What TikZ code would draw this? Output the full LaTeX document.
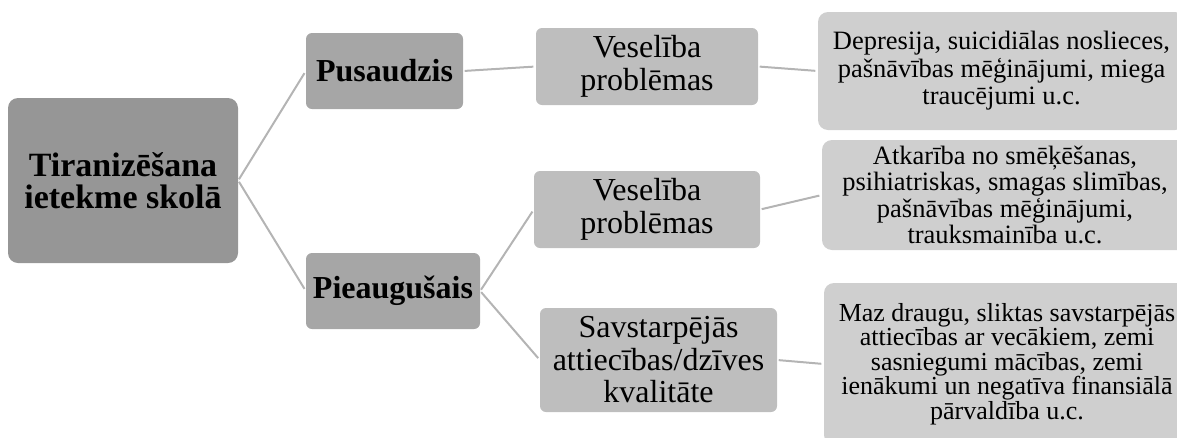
\documentclass[tikz,border=0pt]{standalone}
\usepackage{fontspec}
\setmainfont{Liberation Serif}
\definecolor{cRoot}{HTML}{969696}
\definecolor{cMid}{HTML}{A6A6A6}
\definecolor{cLvl}{HTML}{BEBEBE}
\definecolor{cLeaf}{HTML}{CFCFCF}
\definecolor{cLine}{HTML}{B4B4B4}
\begin{document}
\begin{tikzpicture}[x=1pt,y=-1pt,
  box/.style={rectangle,draw=none,inner sep=0pt,align=center,text=black},
  rootbox/.style={box,fill=cRoot,rounded corners=10pt,font=\fontsize{34}{32}\selectfont\bfseries},
  midbox/.style={box,fill=cMid,rounded corners=6pt,font=\fontsize{32}{33}\selectfont\bfseries},
  lvlbox/.style={box,fill=cLvl,rounded corners=6pt,font=\fontsize{32}{33}\selectfont},
  leafbox/.style={box,fill=cLeaf,rounded corners=10pt},
  conn/.style={draw=cLine,line width=2pt,shorten <=1.5pt,shorten >=2.5pt}]
\useasboundingbox (0,0) rectangle (1177,437);
\clip (0,0) rectangle (1177,437);
\node[rootbox,minimum width=230pt,minimum height=165pt] (root) at (123,180.5) {Tiranizēšana\\ietekme skolā};
\node[midbox,minimum width=157pt,minimum height=76pt] (pus) at (384.5,71) {Pusaudzis};
\node[midbox,minimum width=174pt,minimum height=76pt] (pie) at (393,291) {Pieaugušais};
\node[lvlbox,minimum width=222pt,minimum height=77pt] (v1) at (647,66.5) {Veselība\\problēmas};
\node[lvlbox,minimum width=226pt,minimum height=77pt] (v2) at (647,209.5) {Veselība\\problēmas};
\node[lvlbox,minimum width=237pt,minimum height=104pt,font=\fontsize{32}{32.5}\selectfont] (sav) at (658.5,360) {Savstarpējās\\attiecības/dzīves\\kvalitāte};
\node[leafbox,minimum width=367pt,minimum height=118pt,font=\fontsize{26.5}{27.5}\selectfont] (l1) at (1001.5,71) {Depresija, suicidiālas noslieces,\\pašnāvības mēģinājumi, miega\\traucējumi u.c.};
\node[leafbox,minimum width=366pt,minimum height=110pt,font=\fontsize{26.5}{26.3}\selectfont] (l2) at (1005,195) {Atkarība no smēķēšanas,\\psihiatriskas, smagas slimības,\\pašnāvības mēģinājumi,\\trauksmainība u.c.};
\node[leafbox,minimum width=366pt,minimum height=162pt,font=\fontsize{26}{24.5}\selectfont] (l3) at (1007,364) {Maz draugu, sliktas savstarpējās\\attiecības ar vecākiem, zemi\\sasniegumi mācības, zemi\\ienākumi un negatīva finansiālā\\pārvaldība u.c.};
\draw[conn] (root.east) -- (pus.west);
\draw[conn] (root.east) -- (pie.west);
\draw[conn] (pus.east) -- (v1.west);
\draw[conn] (pie.east) -- (v2.west);
\draw[conn] (pie.east) -- (sav.west);
\draw[conn] (v1.east) -- (l1.west);
\draw[conn] (v2.east) -- (l2.west);
\draw[conn] (sav.east) -- (l3.west);
\end{tikzpicture}
\end{document}
